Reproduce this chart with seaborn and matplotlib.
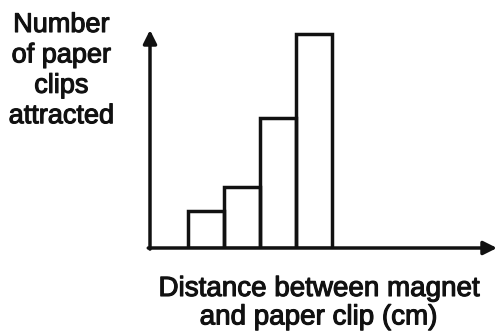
import matplotlib
matplotlib.use("Agg")
import matplotlib.pyplot as plt
import matplotlib.patheffects as pe
import seaborn as sns

# Data (arbitrary units)
distances = [1, 2, 3, 4]
clips = [3.8, 6.3, 13.4, 22.0]
ylabel_text = "Number\nof paper\nclips\nattracted"
xlabel_text = "Distance between magnet\nand paper clip (cm)"

sns.set_style("white")
plt.rcParams["font.family"] = ["Liberation Sans", "DejaVu Sans"]

W, H = 498, 336
INK = "#111111"
fig = plt.figure(figsize=(W / 100, H / 100), dpi=100)
ax = fig.add_axes([150 / W, 1 - 248 / H, 347 / W, 218 / H])

sns.barplot(x=distances, y=clips, native_scale=True, width=1, fill=False,
            color="black", linewidth=2.5, errorbar=None, ax=ax)
for p in ax.patches:
    p.set_edgecolor(INK)

ax.set_xlim(-0.556, 9.08)
ax.set_ylim(0, 22.4)
for s in ax.spines.values():
    s.set_visible(False)
ax.set_xticks([])
ax.set_yticks([])
ax.set_xlabel("")
ax.set_ylabel("")

arrow = dict(arrowstyle="-|>", lw=2.5, color=INK, mutation_scale=20,
             shrinkA=0, shrinkB=0)
ax.annotate("", xy=(0, 1.0), xytext=(0, -0.005), xycoords="axes fraction",
            arrowprops=arrow, annotation_clip=False)
ax.annotate("", xy=(1.0, 0), xytext=(-0.005, 0), xycoords="axes fraction",
            arrowprops=arrow, annotation_clip=False)

thick = [pe.withStroke(linewidth=0.8, foreground=INK)]
fig.text(61.5 / W, 1 - 12 / H, ylabel_text, ha="center", va="top",
         fontsize=19.5, linespacing=1.22, color=INK, path_effects=thick)
fig.text(318.5 / W, 1 - 276 / H, xlabel_text, ha="center", va="top",
         fontsize=20, linespacing=1.12, color=INK, path_effects=thick)

fig.savefig("out.png", dpi=100)
